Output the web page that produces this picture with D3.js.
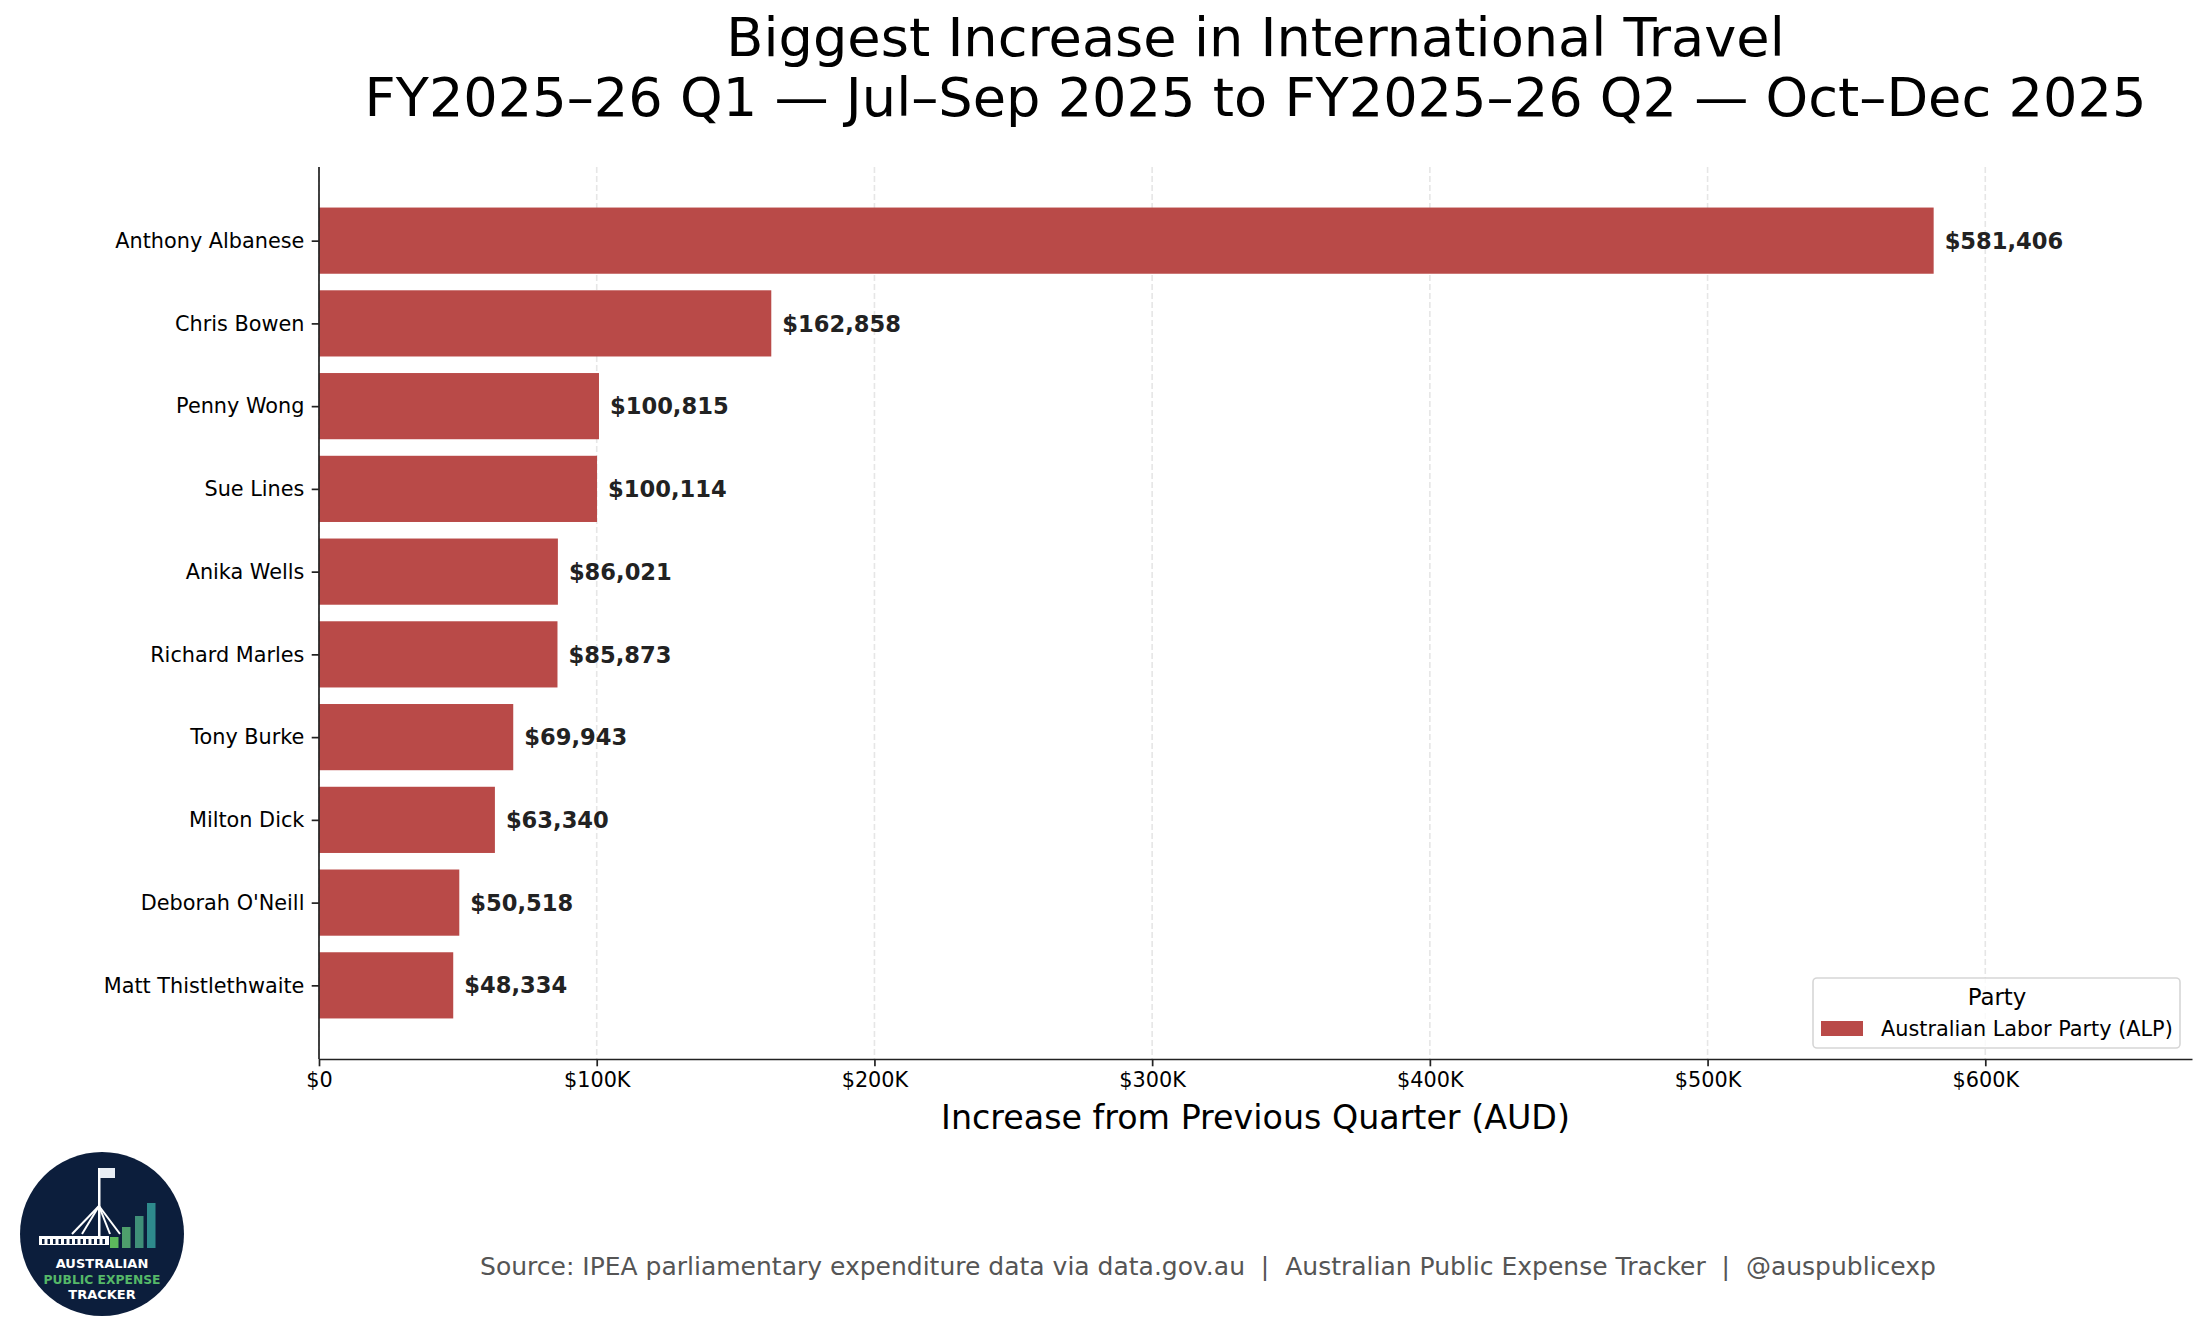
<!DOCTYPE html>
<html>
<head>
<meta charset="utf-8">
<script src="https://cdn.jsdelivr.net/npm/d3@7"></script>
<style>
  body { margin: 0; background: #fff; }
  text { font-family: "DejaVu Sans", sans-serif; }
</style>
</head>
<body>
<div id="chart-area"></div>
<script>
// data
const names = ["Anthony Albanese", "Chris Bowen", "Penny Wong", "Sue Lines", "Anika Wells",
    "Richard Marles", "Tony Burke", "Milton Dick", "Deborah O'Neill", "Matt Thistlethwaite"];
const increases = [581406, 162858, 100815, 100114, 86021, 85873, 69943, 63340, 50518, 48334];
const parties = ["Australian Labor Party (ALP)"];
const partyColors = ["#b94a48"];
const xTicks = [0, 100000, 200000, 300000, 400000, 500000, 600000];
const xTickLabels = ["$0", "$100K", "$200K", "$300K", "$400K", "$500K", "$600K"];

const width = 2205, height = 1337;
const plotL = 319, plotR = 2192, plotT = 167, plotB = 1059;

const svg = d3.select("#chart-area")
    .append("svg")
    .attr("width", width)
    .attr("height", height);

svg.append("rect").attr("width", width).attr("height", height).attr("fill", "#fff");

const x = d3.scaleLinear()
    .domain([0, d3.max(increases) * 1.16])
    .range([plotL, plotR]);

// bars at index positions, matplotlib-like margins
const y = d3.scaleLinear()
    .domain([-0.89, names.length - 1 + 0.89])
    .range([plotT, plotB]);
const barH = (y(1) - y(0)) * 0.8;

const color = d3.scaleOrdinal().domain(parties).range(partyColors);

// grid
svg.append("g")
    .selectAll("line")
    .data(xTicks)
    .enter()
    .append("line")
    .attr("x1", d => x(d))
    .attr("x2", d => x(d))
    .attr("y1", plotT)
    .attr("y2", plotB)
    .attr("stroke", "#e6e6e6")
    .attr("stroke-width", 1.6)
    .attr("stroke-dasharray", "6,3");

// bars
svg.append("g")
    .selectAll("rect")
    .data(increases)
    .enter()
    .append("rect")
    .attr("x", x(0))
    .attr("y", (d, i) => y(i) - barH / 2)
    .attr("width", d => x(d) - x(0))
    .attr("height", barH)
    .attr("fill", color(parties[0]));

// value labels
svg.append("g")
    .selectAll("text")
    .data(increases)
    .enter()
    .append("text")
    .attr("x", d => x(d) + 11)
    .attr("y", (d, i) => y(i))
    .attr("dy", "0.36em")
    .attr("font-size", "22.6px")
    .attr("font-weight", "bold")
    .attr("fill", "#222")
    .text(d => "$" + d3.format(",")(d));

// x axis
const xAxis = svg.append("g")
    .attr("transform", `translate(0,${plotB})`)
    .call(d3.axisBottom(x)
        .tickValues(xTicks)
        .tickFormat((d, i) => xTickLabels[i])
        .tickSize(7.3)
        .tickSizeOuter(0)
        .tickPadding(6));
xAxis.select(".domain").attr("stroke", "#222").attr("stroke-width", 1.7);
xAxis.selectAll(".tick line").attr("stroke", "#222").attr("stroke-width", 1.7);
xAxis.selectAll(".tick text").attr("font-size", "20.8px").attr("fill", "#000")
    .attr("font-family", "DejaVu Sans");

// y axis
const yAxis = svg.append("g")
    .attr("transform", `translate(${plotL},0)`)
    .call(d3.axisLeft(y)
        .tickValues(d3.range(names.length))
        .tickFormat(i => names[i])
        .tickSize(7.3)
        .tickPadding(7.3));
yAxis.select(".domain").attr("d", `M0,${plotT}V${plotB}`)
    .attr("stroke", "#222").attr("stroke-width", 1.7);
yAxis.selectAll(".tick line").attr("stroke", "#222").attr("stroke-width", 1.7);
yAxis.selectAll(".tick text").attr("font-size", "20.8px").attr("fill", "#000")
    .attr("font-family", "DejaVu Sans");

// titles
const cx = (plotL + plotR) / 2;
svg.append("text")
    .attr("x", cx).attr("y", 56)
    .attr("text-anchor", "middle")
    .attr("font-size", "54.2px")
    .text("Biggest Increase in International Travel");
svg.append("text")
    .attr("x", cx).attr("y", 116)
    .attr("text-anchor", "middle")
    .attr("font-size", "54.2px")
    .text("FY2025–26 Q1 — Jul–Sep 2025 to FY2025–26 Q2 — Oct–Dec 2025");

svg.append("text")
    .attr("x", cx).attr("y", 1129)
    .attr("text-anchor", "middle")
    .attr("font-size", "33.3px")
    .text("Increase from Previous Quarter (AUD)");

svg.append("text")
    .attr("x", 1208).attr("y", 1275)
    .attr("text-anchor", "middle")
    .attr("font-size", "25px")
    .attr("fill", "#555")
    .style("white-space", "pre")
    .text("Source: IPEA parliamentary expenditure data via data.gov.au  |  Australian Public Expense Tracker  |  @auspublicexp");

// legend
const legend = svg.append("g");
legend.append("rect")
    .attr("x", 1813).attr("y", 978)
    .attr("width", 367).attr("height", 70)
    .attr("rx", 4)
    .attr("fill", "#fff").attr("fill-opacity", 0.8)
    .attr("stroke", "#d6d6d6").attr("stroke-width", 1.6);
legend.append("text")
    .attr("x", 1997).attr("y", 1005)
    .attr("text-anchor", "middle")
    .attr("font-size", "22.9px")
    .text("Party");
legend.selectAll(".entry")
    .data(parties)
    .enter()
    .append("rect")
    .attr("x", 1821).attr("y", (d, i) => 1021 + i * 30)
    .attr("width", 42).attr("height", 15)
    .attr("fill", d => color(d));
legend.selectAll(".label")
    .data(parties)
    .enter()
    .append("text")
    .attr("x", 1881).attr("y", (d, i) => 1036 + i * 30)
    .attr("font-size", "20.8px")
    .text(d => d);

// logo badge
const logo = svg.append("g").attr("transform", "translate(102,1234)");
logo.append("circle").attr("r", 82).attr("fill", "#0c1e3c");
logo.append("rect").attr("x", -4).attr("y", -66).attr("width", 2.5).attr("height", 70).attr("fill", "#fff");
logo.append("rect").attr("x", -2).attr("y", -66).attr("width", 15).attr("height", 10).attr("fill", "#e8eef5");
[[-30, 0], [-20, 0], [8, 0], [18, 0]].forEach(p => {
    logo.append("line")
        .attr("x1", -3).attr("y1", -28)
        .attr("x2", p[0]).attr("y2", p[1])
        .attr("stroke", "#fff").attr("stroke-width", 2);
});
logo.append("rect").attr("x", -63).attr("y", 2).attr("width", 70).attr("height", 9).attr("fill", "#fff");
for (let k = 0; k < 12; k++) {
    logo.append("rect").attr("x", -60 + k * 5.5).attr("y", 5).attr("width", 2.5).attr("height", 5).attr("fill", "#0c1e3c");
}
const logoBars = [
    { x: 8, h: 11, c: "#5cb85c" },
    { x: 20, h: 21, c: "#4e9f6c" },
    { x: 33, h: 32, c: "#3f8f78" },
    { x: 45, h: 45, c: "#2e8a8c" }
];
logo.selectAll(".lb")
    .data(logoBars)
    .enter()
    .append("rect")
    .attr("x", d => d.x).attr("y", d => 14 - d.h)
    .attr("width", 8.5).attr("height", d => d.h)
    .attr("fill", d => d.c);
logo.append("text").attr("y", 34).attr("text-anchor", "middle")
    .attr("font-size", "13px").attr("font-weight", "bold").attr("fill", "#fff")
    .text("AUSTRALIAN");
logo.append("text").attr("y", 50).attr("text-anchor", "middle")
    .attr("font-size", "12.3px").attr("font-weight", "bold").attr("fill", "#55b868")
    .text("PUBLIC EXPENSE");
logo.append("text").attr("y", 65).attr("text-anchor", "middle")
    .attr("font-size", "13px").attr("font-weight", "bold").attr("fill", "#fff")
    .text("TRACKER");
</script>
</body>
</html>
